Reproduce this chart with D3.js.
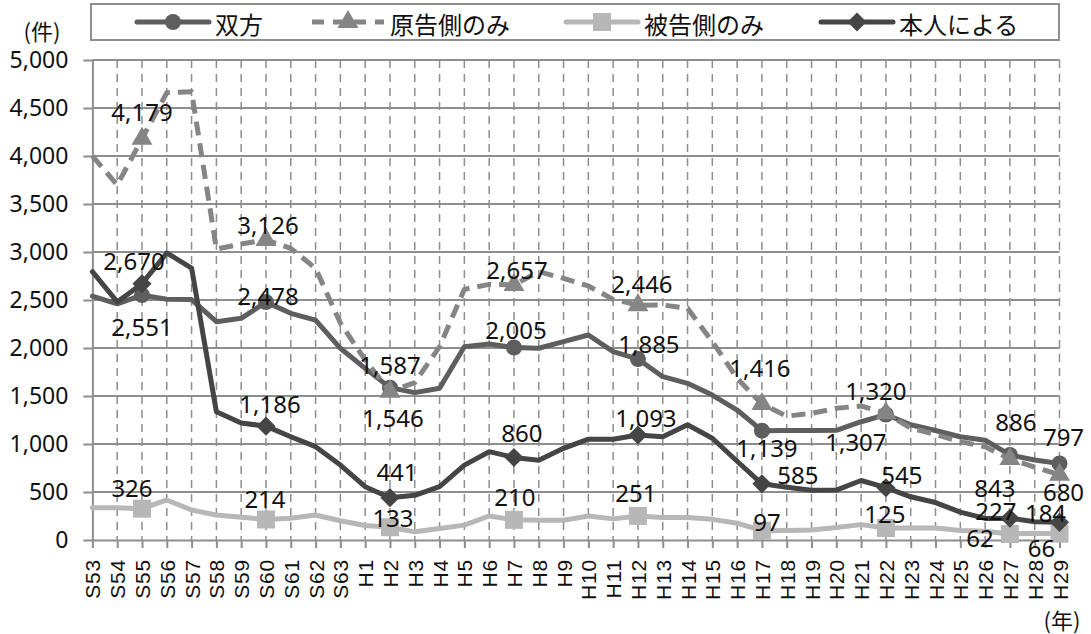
<!DOCTYPE html>
<html><head><meta charset="utf-8">
<script src="https://cdn.jsdelivr.net/npm/d3@7"></script>
<style>body{margin:0;background:#fff}svg{display:block}</style>
</head><body>
<svg id="c" width="1091" height="634"></svg>
<script>
const categories = ["S53","S54","S55","S56","S57","S58","S59","S60","S61","S62","S63",
  "H1","H2","H3","H4","H5","H6","H7","H8","H9","H10","H11","H12","H13","H14","H15","H16","H17","H18","H19","H20",
  "H21","H22","H23","H24","H25","H26","H27","H28","H29"];
const seriesNames = ["双方","原告側のみ","被告側のみ","本人による"];
const bothValues = [2540,2460,2551,2507,2505,2274,2309,2478,2361,2290,1997,
  1788,1587,1535,1580,2014,2042,2005,1997,2066,2135,1962,1885,1701,1632,1510,1354,1139,1140,1140,1142,
  1232,1307,1200,1140,1076,1040,886,833,797];
const plaintiffValues = [4000,3698,4179,4660,4670,3031,3083,3126,3038,2830,2260,
  1875,1546,1639,2014,2611,2663,2657,2795,2726,2646,2507,2446,2448,2413,2066,1684,1416,1290,1319,1372,
  1396,1320,1166,1100,1024,972,843,760,680];
const defendantValues = [336,336,326,417,312,260,236,214,226,260,201,
  151,133,85,120,155,250,210,205,205,250,220,251,235,235,215,175,97,100,105,130,
  160,125,125,125,100,90,62,70,66];
const selfValues = [2795,2480,2670,2990,2833,1336,1219,1186,1076,972,781,
  555,441,465,555,780,920,860,830,955,1050,1050,1093,1075,1200,1060,820,585,550,518,520,
  620,545,450,390,290,225,227,190,184];
const labeledCategories = ["S55","S60","H2","H7","H12","H17","H22","H27","H29"];
const yTicks = [0,500,1000,1500,2000,2500,3000,3500,4000,4500,5000];

// label placement offsets (layout only)
const labelOffsets = [
  [[0,31],[2,-7],[0,-23],[2,-18],[11,-16],[5,17],[-30,27],[6,-33],[4,-27]],
  [[0,-27],[2,-15],[3,26],[3,-15],[4,-22],[-2,-37],[-10,-23],[-15,28],[4,17]],
  [[-10,-21],[-1,-21],[3,-10],[1,-23],[-2,-23],[5,-9],[-1,-15],[-30,3],[-18,14]],
  [[-8,-23],[4,-23],[7,-26],[8,-25],[8,-18],[36,-9],[16,-13],[-14,-8],[-14,-10]]
];
const styles = [
  {color:"#5e5e5e", dash:null, marker:"circle"},
  {color:"#858585", dash:"14,8", marker:"triangle"},
  {color:"#b7b7b7", dash:null, marker:"square"},
  {color:"#454545", dash:null, marker:"diamond"}
];
const seriesValues = [bothValues, plaintiffValues, defendantValues, selfValues];

const svg = d3.select("#c");
const x = d3.scalePoint().domain(categories).range([92.4,1059.5]);
const y = d3.scaleLinear().domain([0,5000]).range([540,60]);
const gridColor = "#8e8e8e";
const numFont = "'Noto Sans','Noto Sans CJK JP',sans-serif";
const jpFont = "'Noto Sans CJK JP','Noto Sans',sans-serif";

// horizontal gridlines
svg.append("g").selectAll("line").data(yTicks.filter(d=>d>0)).join("line")
  .attr("x1",x.range()[0]).attr("x2",x.range()[1])
  .attr("y1",d=>y(d)).attr("y2",d=>y(d))
  .attr("stroke",gridColor).attr("stroke-width",2);
// vertical dashed gridlines
svg.append("g").selectAll("line").data(categories.slice(1)).join("line")
  .attr("x1",d=>x(d)).attr("x2",d=>x(d))
  .attr("y1",y(5000)).attr("y2",y(0))
  .attr("stroke",gridColor).attr("stroke-width",1.5).attr("stroke-dasharray","8,6");

// y axis
const gy = svg.append("g").attr("transform",`translate(${x.range()[0]},0)`)
  .call(d3.axisLeft(y).tickValues(yTicks).tickFormat(d3.format(",")).tickSize(9).tickSizeOuter(0).tickPadding(15));
gy.selectAll("path,line").attr("stroke",gridColor).attr("stroke-width",2);
gy.selectAll("text").attr("font-family",numFont).attr("font-size",23).attr("fill","#111");

// x axis
const gx = svg.append("g").attr("transform",`translate(0,${y(0)})`)
  .call(d3.axisBottom(x).tickSize(8).tickSizeOuter(0));
gx.selectAll("path,line").attr("stroke",gridColor).attr("stroke-width",2);
gx.selectAll("text")
  .attr("transform","rotate(-90)")
  .attr("x",-19).attr("y",0).attr("dy","0.36em")
  .attr("text-anchor","end")
  .attr("font-family","'Liberation Sans',Arial,sans-serif")
  .attr("font-size",21).attr("letter-spacing","0.8px").attr("fill","#111");

// unit labels
svg.append("text").attr("x",42).attr("y",30).attr("text-anchor","middle").attr("dominant-baseline","central")
  .attr("font-family",jpFont).attr("font-size",22).attr("fill","#111").text("(件)");
svg.append("text").attr("x",1062).attr("y",619).attr("text-anchor","middle").attr("dominant-baseline","central")
  .attr("font-family",jpFont).attr("font-size",22).attr("fill","#111").text("(年)");

function markerPath(kind){
  if(kind==="circle") return d3.symbol().type(d3.symbolCircle).size(Math.PI*8*8)();
  if(kind==="triangle") return d3.symbol().type(d3.symbolTriangle).size(190)();
  if(kind==="square") return d3.symbol().type(d3.symbolSquare).size(18*18)();
  return d3.symbol().type(d3.symbolSquare).size(13.5*13.5)();
}
function markerTransform(kind,px,py){
  return kind==="diamond" ? `translate(${px},${py}) rotate(45)` : `translate(${px},${py})`;
}

const line = d3.line().x(d=>x(d.c)).y(d=>y(d.v));
seriesValues.forEach((vals,si)=>{
  const st = styles[si];
  const data = categories.map((c,i)=>({c, v:vals[i]}));
  const g = svg.append("g");
  g.append("path").datum(data).attr("d",line).attr("fill","none")
    .attr("stroke",st.color).attr("stroke-width",5)
    .attr("stroke-linejoin","round").attr("stroke-linecap", st.dash ? "butt" : "round")
    .attr("stroke-dasharray",st.dash);
  g.selectAll("path.m").data(data.filter(d=>labeledCategories.includes(d.c))).join("path")
    .attr("class","m").attr("d",markerPath(st.marker))
    .attr("transform",d=>markerTransform(st.marker,x(d.c),y(d.v)))
    .attr("fill",st.color);
});

// data labels
const fmt = d3.format(",");
seriesValues.forEach((vals,si)=>{
  const data = labeledCategories.map((c,k)=>({c, v:vals[categories.indexOf(c)], o:labelOffsets[si][k]}));
  svg.append("g").selectAll("text").data(data).join("text")
    .attr("x",d=>x(d.c)+d.o[0]).attr("y",d=>y(d.v)+d.o[1])
    .attr("text-anchor","middle").attr("dominant-baseline","central")
    .attr("font-family",numFont).attr("font-size",24).attr("fill","#111")
    .text(d=>fmt(d.v));
});

// legend
const legend = svg.append("g");
legend.append("rect").attr("x",91).attr("y",4).attr("width",968).attr("height",36)
  .attr("fill","#fff").attr("stroke",gridColor).attr("stroke-width",2);
const legendStarts = [137,312,566,821];
seriesNames.forEach((name,si)=>{
  const st = styles[si];
  const x0 = legendStarts[si], x1 = x0+72, cy = 22;
  legend.append("line").attr("x1",x0).attr("x2",x1).attr("y1",cy).attr("y2",cy)
    .attr("stroke",st.color).attr("stroke-width",5)
    .attr("stroke-linecap", st.dash ? "butt" : "round")
    .attr("stroke-dasharray", st.dash ? "12,9" : null);
  legend.append("path").attr("d",markerPath(st.marker))
    .attr("transform",markerTransform(st.marker,(x0+x1)/2,cy)).attr("fill",st.color);
  legend.append("text").attr("x",x1+6).attr("y",cy+1).attr("dominant-baseline","central")
    .attr("font-family",jpFont).attr("font-size",24).attr("fill","#111").text(name);
});
</script>
</body></html>
